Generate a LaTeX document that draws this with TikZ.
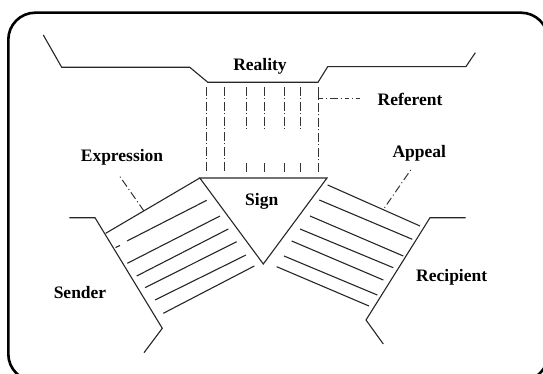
\documentclass[tikz,border=0pt]{standalone}
\usepackage{fontspec}
\setmainfont{Liberation Serif}
\begin{document}
\begin{tikzpicture}[x=1pt,y=-1pt,
  lbl/.style={font=\fontsize{17.5}{19}\selectfont\bfseries, inner sep=0pt},
  ln/.style={line width=1.1pt, black!85},
  dd/.style={line width=1pt, black!80, dash pattern=on 9pt off 2.5pt on 1pt off 2.5pt},
  frame/.style={line width=2.6pt, rounded corners=27pt}]
\useasboundingbox (0,0) rectangle (543,374);
\clip (0,0) rectangle (543,374);
\draw[frame] (8.3,12.7) rectangle (548,381);
% reality ground line
\draw[ln] (43.3,35) -- (61.7,67.3) -- (189.8,67.3) -- (207.8,82.3) -- (318,82.3) -- (327.7,66.7) -- (465.9,66.7) -- (475.3,52.7);
\node[lbl] (reality) at (260,66) {Reality};
% referent lines
\draw[dd] (206,87) -- (206,172);
\draw[dd] (224.3,87) -- (224.3,172);
\foreach \x in {246,264.3,284.3,300}{
  \draw[dd] (\x,87) -- (\x,129);
  \draw[line width=1pt, black!80] (\x,163) -- (\x,172);
}
\coordinate (rc) at (318.8,98.8);
\draw[dd] (318.8,172) -- (rc);
\draw[line width=1pt, black!80] (318.8,87) -- (rc);
\node[lbl] (referent) at (410,99.5) {Referent};
\draw[line width=1pt, black!80, dash pattern=on 4pt off 3pt on 1pt off 3pt on 8pt off 3pt on 1pt off 3pt] (rc) -- (360,98.8);
% sign triangle
\coordinate (tl) at (199.8,178);
\coordinate (tr) at (327,178);
\coordinate (tb) at (263.3,264);
\draw[ln] (tl) -- (tr) -- (tb) -- cycle;
\node[lbl] (sign) at (261.7,201.5) {Sign};
% sender side
\draw[ln] (69.3,217.7) -- (95,217.7) -- (162.3,328.3) -- (144,352.7);
\draw[ln] (105.7,233.3) -- (tl);
\draw[ln] (115.5,247.5) -- (120,245.5);
\draw[ln] (127,241) -- (206.7,200.3);
\draw[ln] (127.3,263.3) -- (220,216);
\draw[ln] (136.7,276) -- (228.3,229);
\draw[ln] (145,287.7) -- (236.7,241.7);
\draw[ln] (155,300) -- (246,255);
\draw[ln] (163.3,313.3) -- (254.3,266);
\node[lbl] (sender) at (80,292.5) {Sender};
\node[lbl] (expression) at (122,157.5) {Expression};
\coordinate (ex) at (144.3,211.5);
\draw[line width=1pt, black!80, dash pattern=on 1pt off 3pt on 8pt off 3pt] (120,176.7) -- (ex);
% recipient side
\draw[ln] (465.7,217.7) -- (430,217.7) -- (366,320) -- (383.3,344);
\draw[ln] (327.7,185) -- (420,226);
\draw[ln] (319.3,200) -- (412.3,239.3);
\draw[ln] (310,216) -- (403.3,256);
\draw[ln] (300,229) -- (393.3,267.7);
\draw[ln] (291.7,241) -- (383.3,280);
\draw[ln] (284,256) -- (377.3,295);
\draw[ln] (276.7,266.7) -- (369,306);
\node[lbl] (recipient) at (451.7,277.7) {Recipient};
\node[lbl] (appeal) at (419.3,153.5) {Appeal};
\coordinate (ap) at (383.3,209.5);
\draw[line width=1pt, black!80, dash pattern=on 1pt off 3pt on 8pt off 3pt] (410.7,170) -- (ap);
\end{tikzpicture}
\end{document}
